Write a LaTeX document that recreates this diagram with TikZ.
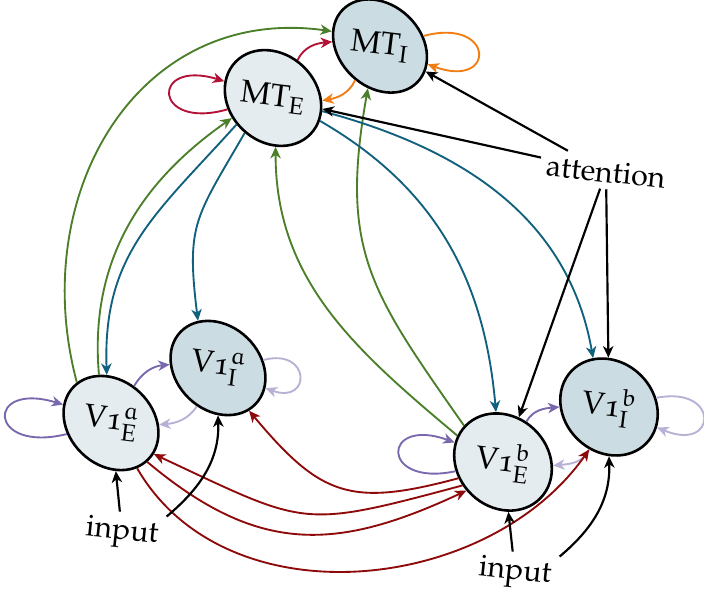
\documentclass[tikz,border=0pt]{standalone}
\usepackage[T1]{fontenc}
\usepackage[osf]{mathpazo}
\usepackage{graphicx}
\usetikzlibrary{arrows.meta,shapes.geometric}
\DeclareMathAlphabet{\mathEu}{U}{eur}{m}{n}
\definecolor{excfill}{HTML}{E4ECF0}
\definecolor{inhfill}{HTML}{CBDCE3}
\definecolor{fbgreen}{HTML}{4B7F2A}
\definecolor{ffteal}{HTML}{10607E}
\definecolor{mtcrim}{HTML}{B11235}
\definecolor{mtorng}{HTML}{F07E12}
\definecolor{vpurp}{HTML}{7A68AD}
\definecolor{vlpurp}{HTML}{B9B0D6}
\definecolor{latred}{HTML}{8E0A0A}
% ellipses lean by -44 deg, their labels only by -7 deg
\newcommand{\poptext}[1]{\rotatebox[origin=c]{37}{#1}}
\tikzset{
  excit/.style={ellipse,draw=black,line width=0.9pt,fill=excfill,
                minimum width=1.27cm,minimum height=0.88cm,inner sep=0pt,
                rotate=-44,font=\fontsize{11}{13}\selectfont},
  inhib/.style={excit,fill=inhfill},
  txtlbl/.style={font=\fontsize{10.5}{12}\selectfont,rotate=-6,inner sep=2pt},
  conn/.style={-{Stealth[length=4pt,width=3.6pt,inset=1.2pt]},line width=0.65pt},
  fb/.style={conn,fbgreen},
  ff/.style={conn,ffteal},
  mtself/.style={conn,mtcrim},
  mtinh/.style={conn,mtorng},
  vself/.style={conn,vpurp},
  vinh/.style={conn,vlpurp},
  lat/.style={conn,latred},
  ext/.style={conn,black,line width=0.75pt},
}

\begin{document}
\begin{tikzpicture}[x=0.0122cm,y=0.0122cm]
  \useasboundingbox (0,0) rectangle (704,597);

  % populations (anchor angles are in the ellipse's own frame)
  \node[inhib] (mti) at (380,551) {\poptext{MT$_\mathrm{I}$}};
  \node[excit] (mte) at (273,499) {\poptext{MT$_\mathrm{E}$}};
  \node[inhib] (via) at (218,229) {\poptext{V1$^{\mathEu{a}}_{\mathrm{I}}$}};
  \node[excit] (vea) at (111,174) {\poptext{V1$^{\mathEu{a}}_{\mathrm{E}}$}};
  \node[excit] (veb) at (503,135) {\poptext{V1$^{\mathEu{b}}_{\mathrm{E}}$}};
  \node[inhib] (vib) at (609,190) {\poptext{V1$^{\mathEu{b}}_{\mathrm{I}}$}};

  \node[txtlbl] (att) at (606,425) {attention};
  \node[txtlbl] (inl) at (122,64) {input};
  \node[txtlbl] (inr) at (515,24) {input};

  % MT recurrence
  \draw[mtself] (mte.238) to[out=196,in=163,distance=0.95cm] (mte.205);
  \draw[mtself] (mte.101) to[out=65,in=185] (mti.219);
  \draw[mtinh] (mti.278) to[out=245,in=10] (mte.41);
  \draw[mtinh] (mti.57) to[out=15,in=-20,distance=0.9cm] (mti.23);

  % feedback V1 -> MT
  \draw[fb] (vea.174) to[out=105,in=172,looseness=1.15] (mti.207);
  \draw[fb] (vea.148) to[out=95,in=215] (mte.250);
  \draw[fb] (veb.194) to[out=140,in=-90] (mte.317);
  \draw[fb] (veb.181) to[out=125,in=-100,looseness=1.2] (mti.298);

  % feedforward MT -> V1
  \draw[ff] (mte.260) to[out=228,in=92,looseness=1.1] (vea.139);
  \draw[ff] (mte.275) to[out=240,in=97,looseness=1.3] (via.157);
  \draw[ff] (mte.18) to[out=-30,in=95] (veb.142);
  \draw[ff] (mte.29) to[out=-15,in=100] (vib.152);

  % V1 local loops
  \draw[vself] (vea.238) to[out=194,in=163,distance=1.0cm] (vea.203);
  \draw[vself] (vea.102) to[out=60,in=185] (via.220);
  \draw[vinh] (via.285) to[out=237,in=5] (vea.42);
  \draw[vinh] (via.54) to[out=15,in=-20,distance=0.6cm] (via.21);
  \draw[vself] (veb.235) to[out=192,in=160,distance=0.95cm] (veb.202);
  \draw[vself] (veb.104) to[out=60,in=185] (vib.224);
  \draw[vinh] (vib.289) to[out=245,in=5] (veb.40);
  \draw[vinh] (vib.55) to[out=11,in=-23,distance=0.8cm] (vib.21);

  % lateral V1a <-> V1b
  \draw[lat] (veb.244) to[out=195,in=-50,looseness=1.3] (via.350);
  \draw[lat] (veb.254) to[out=195,in=-25,looseness=1.4] (vea.8);
  \draw[lat] (vea.357) to[out=-40,in=205,looseness=1.15] (veb.262);
  \draw[lat] (vea.344) to[out=-60,in=235] (vib.289);

  % attention and input
  \draw[ext] (att) -- (mti);
  \draw[ext] (att) -- (mte);
  \draw[ext] (att) -- (veb);
  \draw[ext] (att) -- (vib);
  \draw[ext] (inl) -- (vea);
  \draw[ext] (inl.north east) to[out=40,in=-88] (via.314);
  \draw[ext] (inr) -- (veb);
  \draw[ext] (inr.north east) to[out=40,in=-88] (vib.314);
\end{tikzpicture}
\end{document}
